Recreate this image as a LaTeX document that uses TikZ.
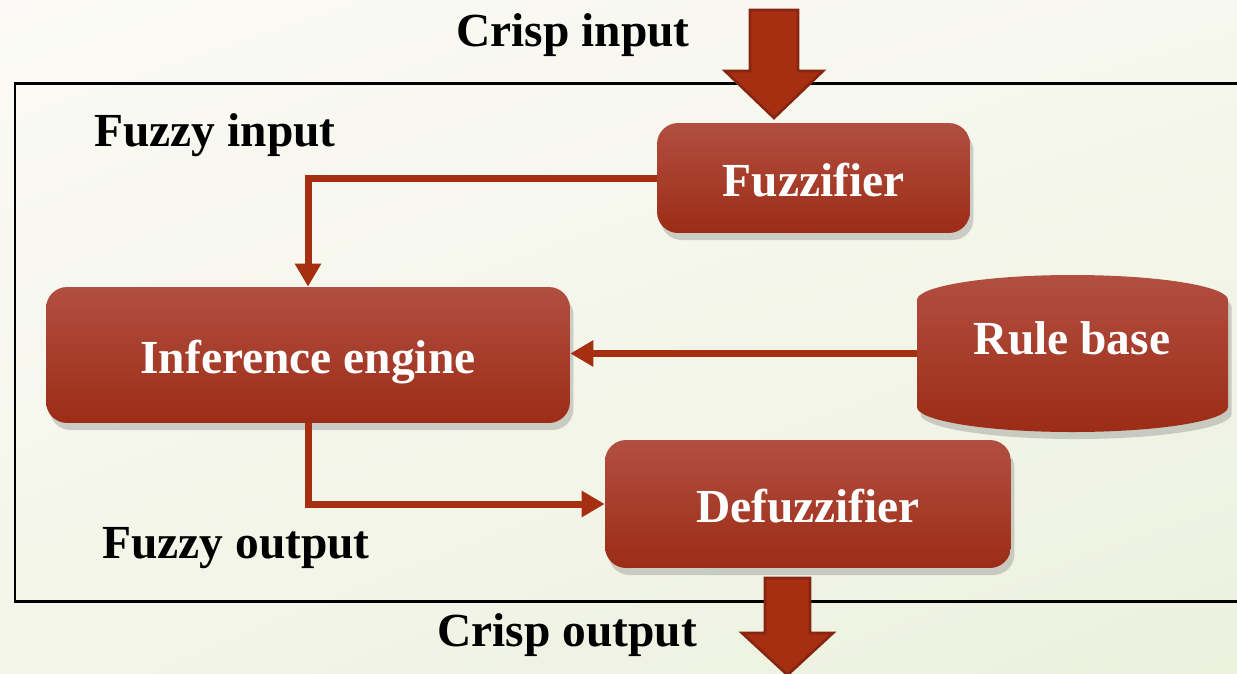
\documentclass[tikz,border=0pt]{standalone}
\usepackage{fontspec}
\setmainfont{Liberation Serif}
\usetikzlibrary{arrows.meta,shadows,shadings}

\definecolor{boxtop}{HTML}{B24F41}
\definecolor{boxbot}{HTML}{9C2C16}
\definecolor{arrowred}{HTML}{A62F12}
\definecolor{arrowedge}{HTML}{862510}
\definecolor{bgul}{RGB}{251,250,246}
\definecolor{bgur}{RGB}{246,247,238}
\definecolor{bgll}{RGB}{243,245,232}
\definecolor{bglr}{RGB}{236,241,222}

\tikzset{
  redfill/.style={top color=boxtop, bottom color=boxbot,
    drop shadow={shadow xshift=2pt, shadow yshift=-4pt, opacity=0.35}},
  block/.style={rectangle, rounded corners=12pt, redfill,
    text=white, font=\fontsize{27}{30}\selectfont\bfseries, text height=27pt, text depth=6pt},
  label/.style={font=\fontsize{27}{30}\selectfont\bfseries, text=black},
  flow/.style={draw=arrowred, line width=0.14cm, -{Triangle[length=0.46cm, width=0.5cm]}},
  bigarrow/.style={fill=arrowred, draw=arrowedge, line width=1.5pt, line join=miter}
}

\begin{document}
\begin{tikzpicture}[x=0.02cm, y=-0.02cm]
    \useasboundingbox (0,0) rectangle (1237,673);
    \shade[upper left=bgul, upper right=bgur, lower left=bgll, lower right=bglr]
      (0,0) rectangle (1237,673);
    % frame
    \draw[line width=0.06cm] (15,83) rectangle (1260,601);
    % blocks
    \node[block, minimum width=6.26cm, minimum height=2.2cm] (fuzz) at (813.5,178) {Fuzzifier};
    \node[block, minimum width=10.48cm, minimum height=2.72cm] (inf) at (308,355) {Inference engine};
    \node[block, minimum width=8.12cm, minimum height=2.56cm] (defuzz) at (808,504) {Defuzzifier};
    % rule base drum
    \node[minimum width=6.22cm, minimum height=3.14cm] (rule) at (1072.5,353.5) {};
    \path[redfill] (917,300) .. controls (917,286.2) and (986.6,275) .. (1072.5,275)
      .. controls (1158.4,275) and (1228,286.2) .. (1228,300) -- (1228,407)
      .. controls (1228,420.8) and (1158.4,432) .. (1072.5,432)
      .. controls (986.6,432) and (917,420.8) .. (917,407) -- cycle;
    \node[label, text=white] (rulelbl) at (1072,338) {Rule base};
    % labels
    \node[label] (crispin) at (573,35) {Crisp input};
    \node[label] (fuzzyin) at (215,135) {Fuzzy input};
    \node[label] (fuzzyout) at (236,548) {Fuzzy output};
    \node[label] (crispout) at (567,635) {Crisp output};
    % connectors
    \draw[flow] (fuzz.west) -| (inf.north);
    \draw[flow] (rule.west) -- (rule.west -| inf.east);
    \draw[flow] (inf.south) |- (defuzz.west);
    % block arrows
    \coordinate (inarrow) at (774,10);
    \coordinate (outarrow) at (787.5,578);
    \draw[bigarrow] (inarrow) ++(-24,0) -- ++(48,0) -- ++(0,61) -- ++(25,0) -- ++(-49,47)
      -- ++(-49,-47) -- ++(25,0) -- cycle;
    \draw[bigarrow] (outarrow) ++(-22.5,0) -- ++(45,0) -- ++(0,55) -- ++(23,0) -- ++(-45.5,42)
      -- ++(-45.5,-42) -- ++(23,0) -- cycle;
\end{tikzpicture}
\end{document}
